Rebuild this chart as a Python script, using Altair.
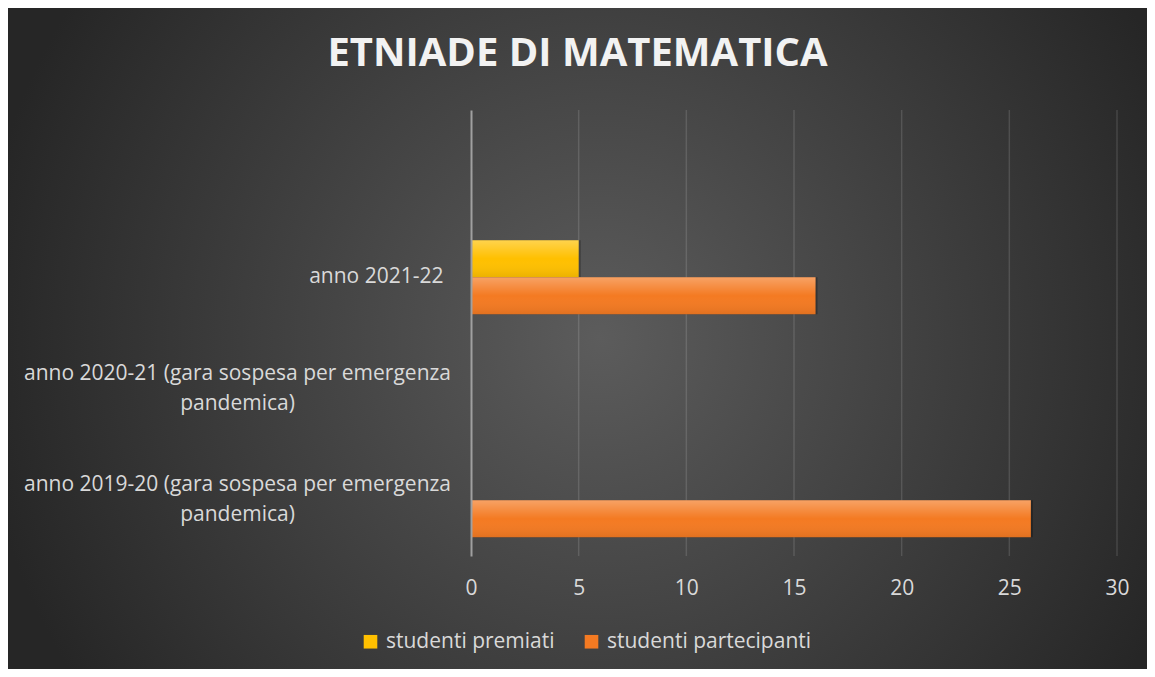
import altair as alt
import pandas as pd

# ---------------- data ----------------
categories = [
    "anno 2019-20 (gara sospesa per emergenza pandemica)",
    "anno 2020-21 (gara sospesa per emergenza pandemica)",
    "anno 2021-22",
]
premiati = [0, None, 5]
partecipanti = [26, None, 16]
series = ["studenti premiati", "studenti partecipanti"]
series_colors = ["#ffc000", "#f47a22"]
x_ticks = [0, 5, 10, 15, 20, 25, 30]
grid_ticks = [5, 10, 15, 20, 25, 30]
chart_title = "ETNIADE DI MATEMATICA"

rows = []
for c, p, q in zip(categories, premiati, partecipanti):
    if p is not None:
        rows.append({"anno": c, "serie": series[0], "valore": p})
    if q is not None:
        rows.append({"anno": c, "serie": series[1], "valore": q})
df = pd.DataFrame(rows)
grid_df = pd.DataFrame({"tick": grid_ticks})

# ---------------- layout ----------------
W, H = 646, 446
LEFT, TOP = 463, 102          # plot origin inside the chart
TOTAL_W, TOTAL_H = 1139, 661
FONT = "Open Sans"
TXT = "#d9d9d9"
FS = 21

y_domain = [" "] + categories[::-1]
x_scale = alt.Scale(domain=[0, 30], nice=False, zero=True)
y_scale = alt.Scale(domain=y_domain, paddingInner=0.336, paddingOuter=0.168)
off_scale = alt.Scale(domain=series, paddingInner=0, paddingOuter=0)

bg_grad = alt.Gradient(
    gradient="radial",
    stops=[
        alt.GradientStop(color="#5c5c5c", offset=0),
        alt.GradientStop(color="#262626", offset=1),
    ],
    x1=0.52, y1=0.5, x2=0.52, y2=0.5, r1=0, r2=0.55,
)

background = alt.Chart(pd.DataFrame({"k": [0]})).mark_rect(color=bg_grad).encode(
    x=alt.value(-LEFT), x2=alt.value(TOTAL_W - LEFT),
    y=alt.value(-TOP), y2=alt.value(TOTAL_H - TOP),
)

grid = alt.Chart(grid_df).mark_rule(color="white", opacity=0.13, strokeWidth=1.5).encode(
    x=alt.X("tick:Q", scale=x_scale)
)

multi = "indexof(datum.label, 'pandemica') > 0"
y_axis = alt.Axis(
    title=None, ticks=False, tickSize=0, domain=True, domainColor="#a0a0a0",
    domainWidth=2, labelColor=TXT, labelFont=FONT, labelFontSize=FS,
    labelLineHeight=30, labelLimit=600, labelBaseline="middle", zindex=1,
    labelExpr="indexof(datum.label, ' pandemica') > 0 ? [slice(datum.label, 0, indexof(datum.label, ' pandemica')), 'pandemica)'] : datum.label",
    labelAlign={"condition": {"test": multi, "value": "center"}, "value": "right"},
    labelPadding={"condition": {"test": multi, "value": 234}, "value": 28},
    labelOffset={"condition": {"test": multi, "value": -15}, "value": 0},
)
x_axis = alt.Axis(
    title=None, ticks=False, domain=False, grid=False, values=x_ticks,
    labelColor=TXT, labelFont=FONT, labelFontSize=FS, labelPadding=21,
    labelFlush=False, zindex=1,
)

enc = dict(
    x=alt.X("valore:Q", scale=x_scale, axis=x_axis),
    y=alt.Y("anno:N", scale=y_scale, axis=y_axis),
    yOffset=alt.YOffset("serie:N", scale=off_scale),
)

shadow = alt.Chart(df).mark_bar(color="black", opacity=0.28, xOffset=2, yOffset=3).encode(**enc)

bars = alt.Chart(df).mark_bar().encode(
    **enc,
    color=alt.Color(
        "serie:N",
        scale=alt.Scale(domain=series, range=series_colors),
        legend=alt.Legend(
            title=None, orient="none", legendX=-111, legendY=521,
            direction="horizontal", symbolType="square", symbolSize=185,
            symbolStrokeWidth=0, labelColor=TXT, labelFont=FONT,
            labelFontSize=FS, columnPadding=26, labelOffset=5, labelLimit=0,
            padding=0,
        ),
    ),
)

shine = alt.Chart(df).mark_bar(
    color=alt.Gradient(
        gradient="linear",
        stops=[
            alt.GradientStop(color="rgba(255,255,255,0.30)", offset=0),
            alt.GradientStop(color="rgba(255,255,255,0.0)", offset=0.5),
            alt.GradientStop(color="rgba(0,0,0,0.08)", offset=1),
        ],
        x1=0, y1=0, x2=0, y2=1,
    )
).encode(**enc)

chart = alt.layer(background, grid, shadow, bars, shine).properties(
    width=W, height=H, padding=0, background="#262626",
    title=alt.TitleParams(
        text=chart_title, font=FONT, fontSize=40, fontWeight="bold",
        color="#f2f2f2", anchor="middle", frame="bounds", offset=0,
        baseline="alphabetic", dy=98,
    ),
).configure_view(stroke=None).resolve_scale(x="shared", y="shared")

chart.save("out.html", embed_options={"renderer": "svg", "actions": False})
